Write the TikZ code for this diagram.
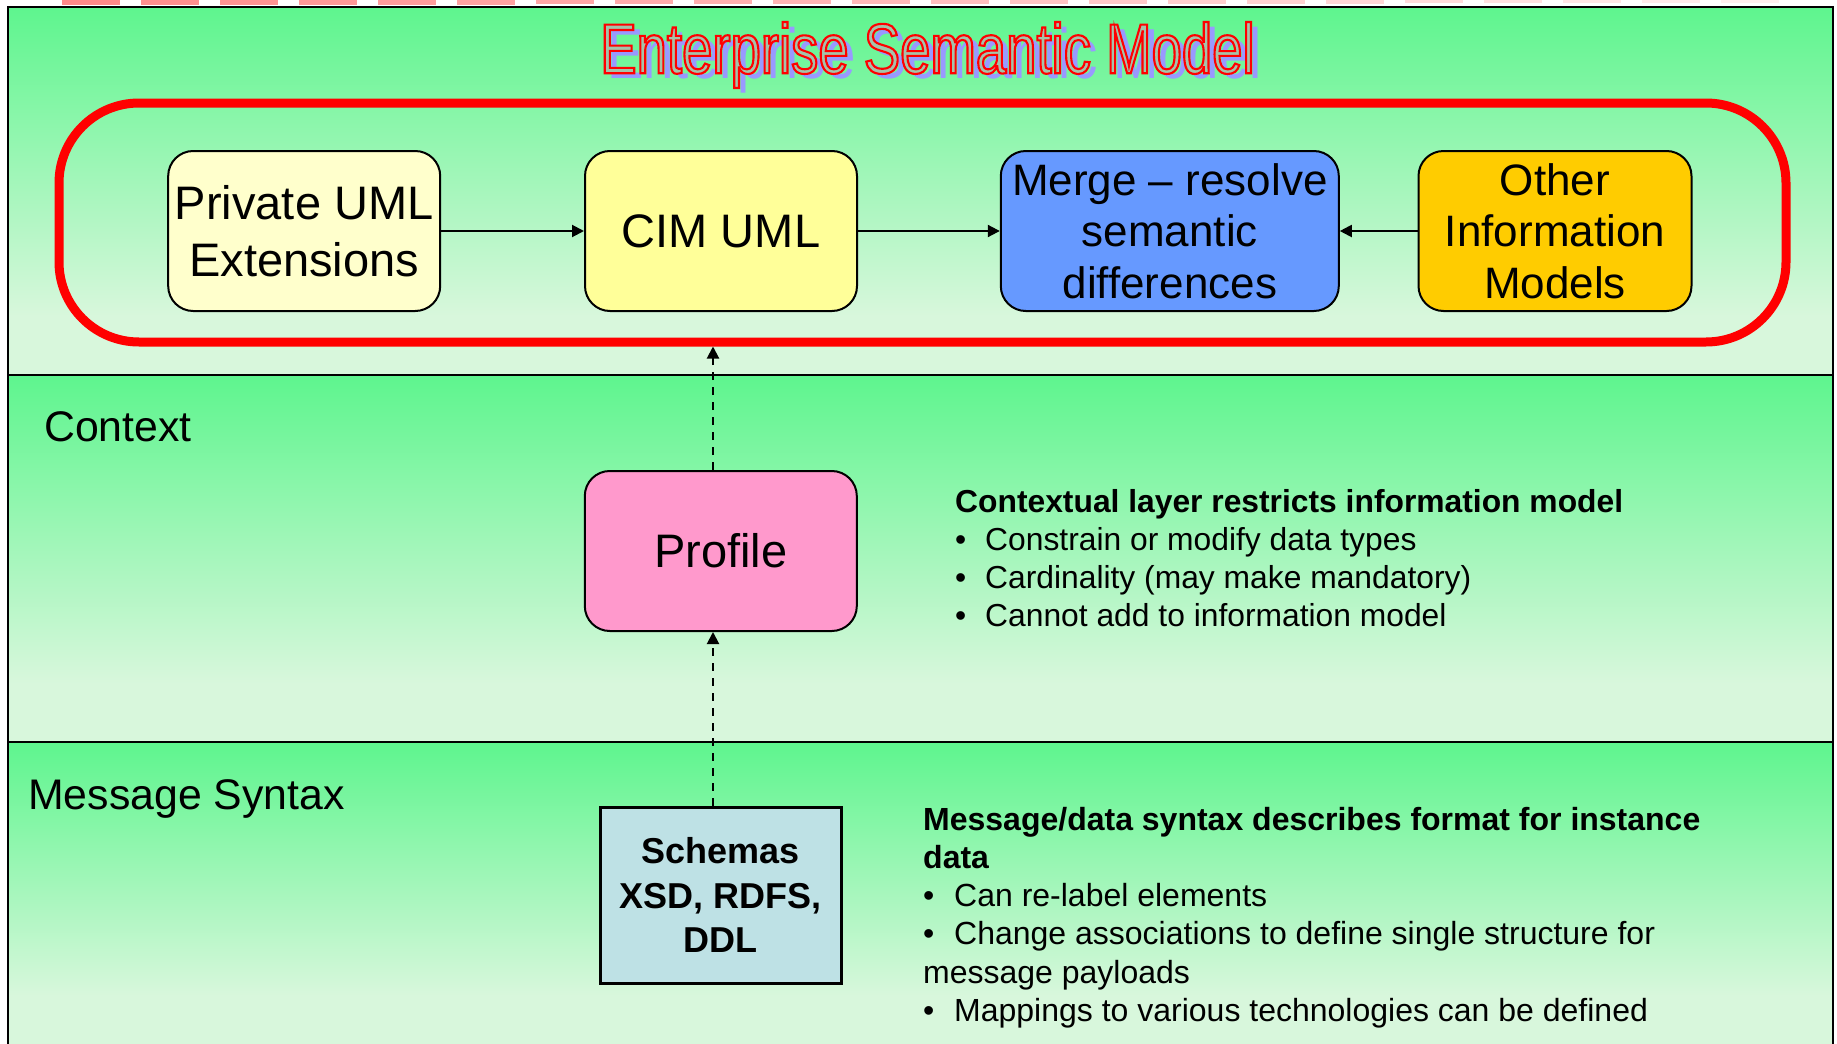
\documentclass[tikz,border=0pt]{standalone}
\usepackage{fontspec}
\setmainfont{Liberation Sans}
\newfontfamily\titlefont[FakeStretch=0.77]{Liberation Sans}
\usetikzlibrary{arrows.meta,calc}
\definecolor{grn}{RGB}{94,245,142}
\definecolor{pale}{RGB}{216,247,220}
\definecolor{cpriv}{HTML}{FFFFCC}
\definecolor{ccim}{HTML}{FFFF99}
\definecolor{cmerge}{HTML}{6699FF}
\definecolor{cother}{HTML}{FFCC00}
\definecolor{cprof}{HTML}{FF99CC}
\definecolor{cschem}{HTML}{BEE1E5}
\definecolor{shadowc}{HTML}{9999FF}
\definecolor{ttlgray}{RGB}{165,195,170}
\pgfdeclareverticalshading{secshade}{100bp}{color(0bp)=(pale); color(25bp)=(pale); color(33bp)=(pale); color(75bp)=(grn); color(100bp)=(grn)}
\begin{document}
\begin{tikzpicture}[x=1pt,y=-1pt,
  box/.style={draw=black, line width=2pt, rounded corners=25pt, minimum width=272pt, minimum height=160pt, align=center, inner sep=0pt},
  flow/.style={-{Triangle[length=12pt,width=12pt]}, line width=2pt},
  dflow/.style={flow, dash pattern=on 8pt off 7pt},
  titletxt/.style={anchor=base, inner sep=0pt, font=\titlefont\fontsize{70.8}{80}\selectfont},
  lbl/.style={anchor=base west, inner sep=0pt, font=\fontsize{42.8}{50}\selectfont},
  desc/.style={anchor=base west, inner sep=0pt}
]
\useasboundingbox (0,0) rectangle (1837,1044);
\clip (0,0) rectangle (1837,1044);
\fill[white] (0,0) rectangle (1837,1044);
% faded dashes at the very top
\foreach \i in {0,...,21}{
  \pgfmathsetmacro{\pct}{46-1.9*\i}
  \pgfmathsetmacro{\hh}{5-0.09*\i}
  \fill[red!\pct!white] ({62+79*\i},0) rectangle ({120+79*\i},\hh);
}
% section backgrounds
\path[shading=secshade] (8,7) rectangle (1833,375);
\path[shading=secshade] (8,375) rectangle (1833,742);
\path[shading=secshade] (8,742) rectangle (1833,1044);
\draw[line width=1.8pt] (8,375) -- (1833,375);
\draw[line width=1.8pt] (8,742) -- (1833,742);
\draw[line width=2.5pt] (8,1060) -- (8,7) -- (1833,7) -- (1833,1060);
% title: shadow, then outlined text (fill grey, stroke red)
\def\ttl{Enterprise Semantic Model}
\node[titletxt, text=shadowc] (ttlS) at (934.5,78.3) {\ttl};
\node[titletxt, text=ttlgray] (title) at (927.5,73.3) {\special{pdf:literal direct 2 Tr 2.1 w 1 0 0 RG}\ttl\special{pdf:literal direct 0 Tr}};
% enterprise semantic model frame
\node[draw=red, line width=9pt, rounded corners=80pt, minimum width=1727pt, minimum height=239pt, inner sep=0pt] (esm) at (922.5,222.5) {};
% boxes
\node[box, fill=cpriv, font=\fontsize{47}{57.5}\selectfont] (priv) at (304.2,231) {Private UML\\Extensions};
\node[box, fill=ccim, font=\fontsize{47}{57.5}\selectfont] (cim) at (721,231) {CIM UML};
\node[box, fill=cmerge, minimum width=338pt, font=\fontsize{44}{51.5}\selectfont] (merge) at (1169.8,231) {Merge – resolve\\semantic\\differences};
\node[box, fill=cother, minimum width=273pt, font=\fontsize{44}{51.5}\selectfont] (other) at (1555,231) {Other\\Information\\Models};
\node[box, fill=cprof, font=\fontsize{47}{57.5}\selectfont] (prof) at (720.8,551) {Profile};
\node[draw=black, line width=3pt, fill=cschem, minimum width=241pt, minimum height=176pt, inner sep=0pt, align=center, font=\bfseries\fontsize{36}{44.4}\selectfont] (schem) at (720.5,895) {Schemas\\XSD, RDFS,\\DDL};
% connectors
\draw[flow] (priv) -- (cim);
\draw[flow] (cim) -- (merge);
\draw[flow] (other) -- (merge);
\coordinate (ax) at (713,0);
\draw[dflow] (ax |- prof.north) -- (ax |- esm.south);
\draw[dflow] (ax |- schem.north) -- (ax |- prof.south);
% layer labels
\node[lbl] (lctx) at (44,441.7) {Context};
\node[lbl] (lmsg) at (28,809) {Message Syntax};
% descriptions
\node[desc, font=\fontsize{31.8}{38}\selectfont] (dctx) at (955,512.5) {\parbox[t]{800pt}{\textbf{Contextual layer restricts information model}\\
\makebox[30pt][l]{•}Constrain or modify data types\\
\makebox[30pt][l]{•}Cardinality (may make mandatory)\\
\makebox[30pt][l]{•}Cannot add to information model}};
\node[desc, font=\fontsize{32}{38.3}\selectfont] (dmsg) at (923,830) {\parbox[t]{850pt}{\textbf{Message/data syntax describes format for instance}\\
\textbf{data}\\
\makebox[31pt][l]{•}Can re-label elements\\
\makebox[31pt][l]{•}Change associations to define single structure for\\
message payloads\\
\makebox[31pt][l]{•}Mappings to various technologies can be defined}};
\end{tikzpicture}
\end{document}
